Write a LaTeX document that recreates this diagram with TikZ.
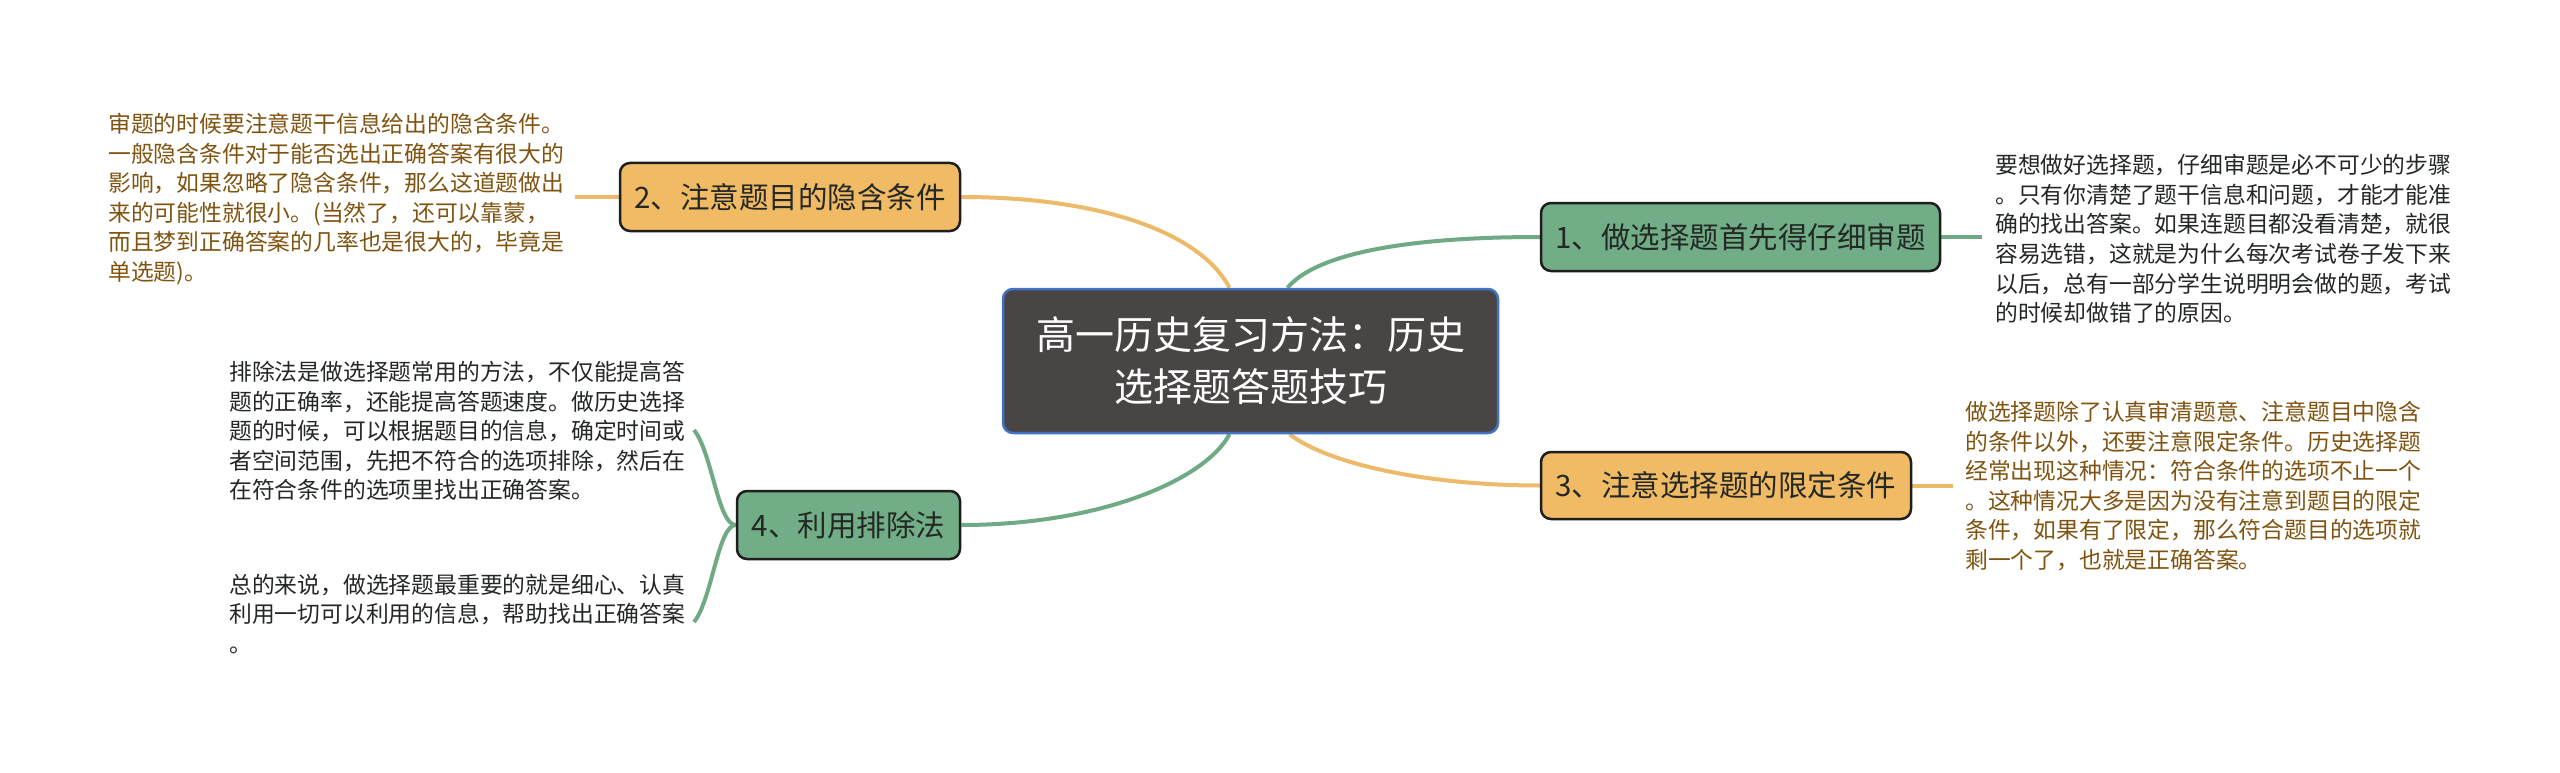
\documentclass[tikz,border=0pt]{standalone}
\usepackage{fontspec}
\setmainfont{Noto Sans CJK SC}
\usetikzlibrary{backgrounds}
\definecolor{orFill}{RGB}{240,187,100}
\definecolor{grFill}{RGB}{113,173,134}
\definecolor{orLine}{RGB}{236,186,104}
\definecolor{grLine}{RGB}{111,170,133}
\definecolor{edgeDark}{RGB}{30,30,30}
\definecolor{brownTxt}{RGB}{128,84,16}
\definecolor{darkTxt}{RGB}{36,40,36}
\definecolor{centFill}{RGB}{74,69,69}
\definecolor{centEdge}{RGB}{66,114,196}
\begin{document}
\begin{tikzpicture}[x=1pt,y=-1pt,
  branch/.style={draw=edgeDark, line width=2.5pt, rounded corners=10pt, inner sep=0pt,
    font=\fontsize{29.5}{34}\selectfont, text=darkTxt, anchor=center},
  orangebox/.style={branch, fill=orFill},
  greenbox/.style={branch, fill=grFill},
  note/.style={anchor=west, align=left, inner sep=0pt, font=\fontsize{22.8}{29.6}\selectfont},
  brownnote/.style={note, text=brownTxt},
  darknote/.style={note, text=darkTxt},
  olink/.style={draw=orLine, line width=4pt},
  glink/.style={draw=grLine, line width=4pt}]
\useasboundingbox (0,0) rectangle (2560,773);

% central
\node[draw=centEdge, fill=centFill, line width=2.5pt, rounded corners=10pt, text=white,
  minimum width=495pt, minimum height=144pt, align=center, inner sep=0pt,
  font=\fontsize{39}{52}\selectfont] (c) at (1250.5,361) {高一历史复习方法：历史\\选择题答题技巧};

% branches
\node[greenbox, minimum width=399pt, minimum height=68pt] (n1) at (1740.5,237) {1、做选择题首先得仔细审题};
\node[orangebox, minimum width=340pt, minimum height=68pt] (n2) at (790,197) {2、注意题目的隐含条件};
\node[orangebox, minimum width=370pt, minimum height=67pt] (n3) at (1726,485.5) {3、注意选择题的限定条件};
\node[greenbox, minimum width=223pt, minimum height=68pt] (n4) at (848.5,525) {4、利用排除法};

% notes
\node[brownnote] (t2) at (108,199) {审题的时候要注意题干信息给出的隐含条件。\\一般隐含条件对于能否选出正确答案有很大的\\影响，如果忽略了隐含条件，那么这道题做出\\来的可能性就很小。(当然了，还可以靠蒙，\\而且梦到正确答案的几率也是很大的，毕竟是\\单选题)。};
\node[darknote] (t1) at (1995,239) {要想做好选择题，仔细审题是必不可少的步骤\\。只有你清楚了题干信息和问题，才能才能准\\确的找出答案。如果连题目都没看清楚，就很\\容易选错，这就是为什么每次考试卷子发下来\\以后，总有一部分学生说明明会做的题，考试\\的时候却做错了的原因。};
\node[brownnote] (t3) at (1965,486) {做选择题除了认真审清题意、注意题目中隐含\\的条件以外，还要注意限定条件。历史选择题\\经常出现这种情况：符合条件的选项不止一个\\。这种情况大多是因为没有注意到题目的限定\\条件，如果有了限定，那么符合题目的选项就\\剩一个了，也就是正确答案。};
\node[darknote] (t4a) at (229,431) {排除法是做选择题常用的方法，不仅能提高答\\题的正确率，还能提高答题速度。做历史选择\\题的时候，可以根据题目的信息，确定时间或\\者空间范围，先把不符合的选项排除，然后在\\在符合条件的选项里找出正确答案。};
\node[darknote] (t4b) at (229,614) {总的来说，做选择题最重要的就是细心、认真\\利用一切可以利用的信息，帮助找出正确答案\\。};

\coordinate (e2) at (575,197);
\coordinate (e1) at (1982,237);
\coordinate (e3) at (1953,485.5);
\coordinate (e4a) at (694,430);
\coordinate (e4b) at (694,622);

\begin{scope}[on background layer]
\fill[white] (0,0) rectangle (2560,773);
\draw[olink] (n2.east) .. controls (1100,197) and (1200,232) .. ([xshift=-21pt]c.north);
\draw[glink] ([xshift=37pt]c.north) .. controls (1315,255) and (1400,237) .. (n1.west);
\draw[glink] ([xshift=-21pt]c.south) .. controls (1205,480) and (1100,525) .. (n4.east);
\draw[olink] ([xshift=39pt]c.south) .. controls (1330,465) and (1430,485.5) .. (n3.west);
\draw[olink] (n2.west) -- (e2);
\draw[glink] (n1.east) -- (e1);
\draw[olink] (n3.east) -- (e3);
\draw[glink] (n4.west) .. controls (718,525) and (712,452) .. (e4a);
\draw[glink] (n4.west) .. controls (718,525) and (712,600) .. (e4b);
\end{scope}
\end{tikzpicture}
\end{document}
